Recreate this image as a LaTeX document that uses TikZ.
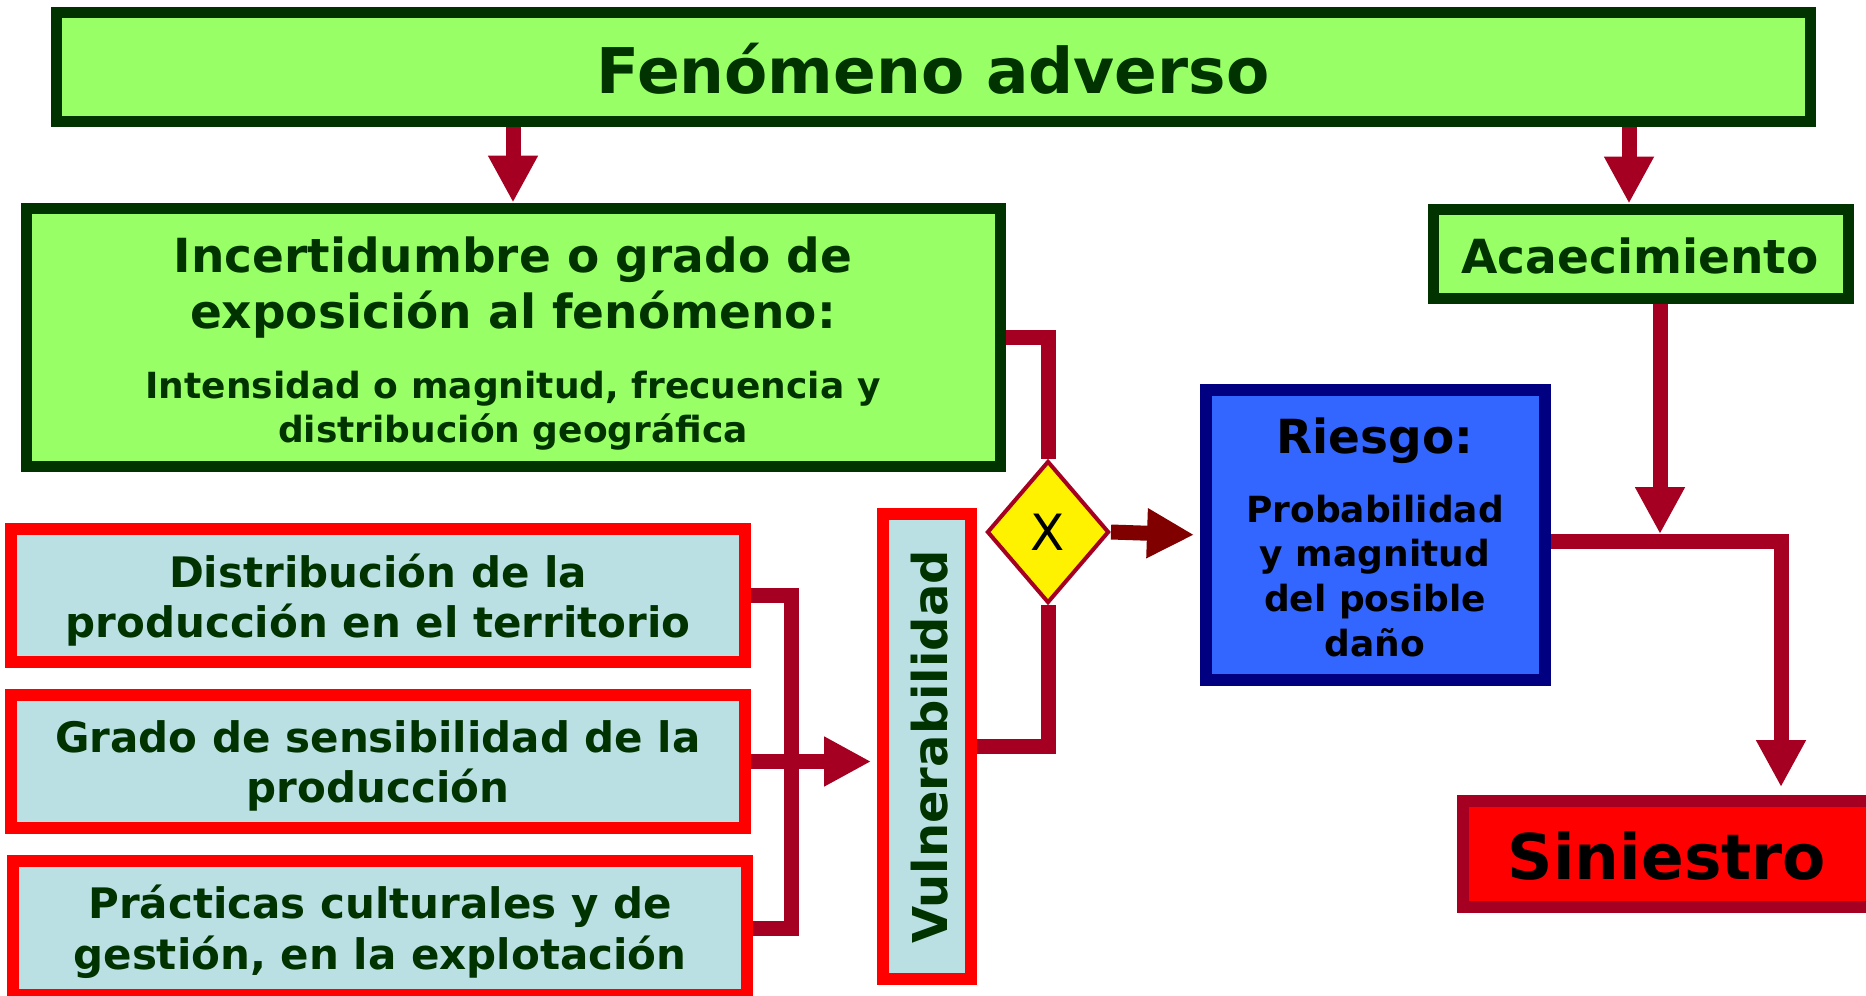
\documentclass[tikz,border=0pt]{standalone}
\usepackage{fontspec}
\setmainfont{DejaVu Sans}
\usetikzlibrary{arrows.meta,shapes.geometric}
\definecolor{gfill}{HTML}{99FF66}
\definecolor{gdark}{HTML}{003300}
\definecolor{bfill}{HTML}{BBE0E3}
\definecolor{rline}{HTML}{FF0000}
\definecolor{connc}{HTML}{A50021}
\definecolor{connd}{HTML}{800000}
\definecolor{rfill}{HTML}{3366FF}
\definecolor{rborder}{HTML}{000080}
\pgfdeclarelayer{background}
\pgfsetlayers{background,main}
\begin{document}
\begin{tikzpicture}[x=0.5pt,y=-0.5pt,
  greenbox/.style={draw=gdark, fill=gfill, line width=5.5pt, inner sep=0pt},
  bluebox/.style={draw=rline, fill=bfill, line width=6pt, inner sep=0pt, minimum width=367pt, minimum height=66.5pt},
  txt/.style={inner sep=0pt, anchor=base, text=gdark, font=\bfseries\fontsize{#1}{#1}\selectfont},
  conn/.style={draw=connc, line width=7.5pt},
  arr/.style={draw=connc, line width=7.5pt, -{Triangle[length=23.5pt,width=23.5pt]}}]
\useasboundingbox (0,0) rectangle (1866,995);
\begin{pgfonlayer}{background}
\fill[white] (0,0) rectangle (1866,995);
\end{pgfonlayer}

% boxes
\node[greenbox, minimum width=877pt, minimum height=54.5pt] (fen) at (933.5,67) {};
\node[greenbox, minimum width=487pt, minimum height=129pt] (inc) at (513,337) {};
\node[greenbox, minimum width=207.5pt, minimum height=44.5pt] (aca) at (1640.5,253.5) {};
\node[draw=rborder, fill=rfill, line width=6pt, inner sep=0pt, minimum width=169.5pt, minimum height=145pt] (rie) at (1375.5,535) {};
\node[draw=connc, fill=rline, line width=6pt, inner sep=0pt, minimum width=205pt, minimum height=53pt] (sin) at (1668,854) {};
\node[bluebox] (dA) at (378,595.5) {};
\node[bluebox] (dB) at (378,761.5) {};
\node[bluebox, minimum height=67pt] (dC) at (380,928) {};
\node[draw=rline, fill=bfill, line width=6pt, inner sep=0pt, minimum width=44pt, minimum height=232.5pt] (vul) at (927,746.5) {};
\node[diamond, draw=connc, fill=yellow, line width=2pt, inner sep=0pt, minimum width=61pt, minimum height=71pt, font=\fontsize{25}{25}\selectfont] (dia) at (1048,532) {X};

% texts
\node[txt=31.5] (tfen) at (933,94) {Fenómeno adverso};
\node[txt=23.5] (tinc1) at (513,272) {Incertidumbre o grado de};
\node[txt=23.5] (tinc2) at (513,328) {exposición al fenómeno:};
\node[txt=18] (tinc3) at (513,398) {Intensidad o magnitud, frecuencia y};
\node[txt=18] (tinc4) at (513,442) {distribución geográfica};
\node[txt=23.5] (taca) at (1640,273) {Acaecimiento};
\node[txt=23.5, text=black] (trie1) at (1375,453) {Riesgo:};
\node[txt=18, text=black] (trie2) at (1375,522) {Probabilidad};
\node[txt=18, text=black] (trie3) at (1375,566) {y magnitud};
\node[txt=18, text=black] (trie4) at (1375,611) {del posible};
\node[txt=18, text=black] (trie5) at (1375,656) {daño};
\node[txt=21] (tA1) at (378,587) {Distribución de la};
\node[txt=21] (tA2) at (378,637) {producción en el territorio};
\node[txt=21] (tB1) at (378,752) {Grado de sensibilidad de la};
\node[txt=21] (tB2) at (378,802) {producción};
\node[txt=21] (tC1) at (380,918) {Prácticas culturales y de};
\node[txt=21] (tC2) at (380,969) {gestión, en la explotación};
\node[txt=24, rotate=90] (tvul) at (947,747) {Vulnerabilidad};
\node[txt=31.5, text=black] (tsin) at (1667,879) {Siniestro};

% helper coordinates
\coordinate (a2) at (1629,0);
\coordinate (jt) at (1660,534);
\coordinate (jn) at (1781,541);
\coordinate (bx) at (791,0);

% connectors behind boxes
\begin{pgfonlayer}{background}
\draw[conn] (inc.east) -| (dia.north);
\draw[conn] (vul.east) -| (dia.south);
\draw[conn] (dA.east) -| (bx |- dC.east) -- (dC.east);
\draw[arr, shorten >=3pt] (dB.east) -- (vul.west |- dB.east);
\draw[arr, draw=connd, shorten >=3pt] (dia.east) -- (rie.west);
\draw[arr, shorten >=4pt] (rie.east |- jn) -| (sin.north -| jn);
\end{pgfonlayer}

% connectors on top
\draw[arr] (fen.south -| inc.north) -- (inc.north);
\draw[arr] (fen.south -| a2) -- (aca.north -| a2);
\draw[arr] (aca.south -| jt) -- (jt);
\end{tikzpicture}
\end{document}
